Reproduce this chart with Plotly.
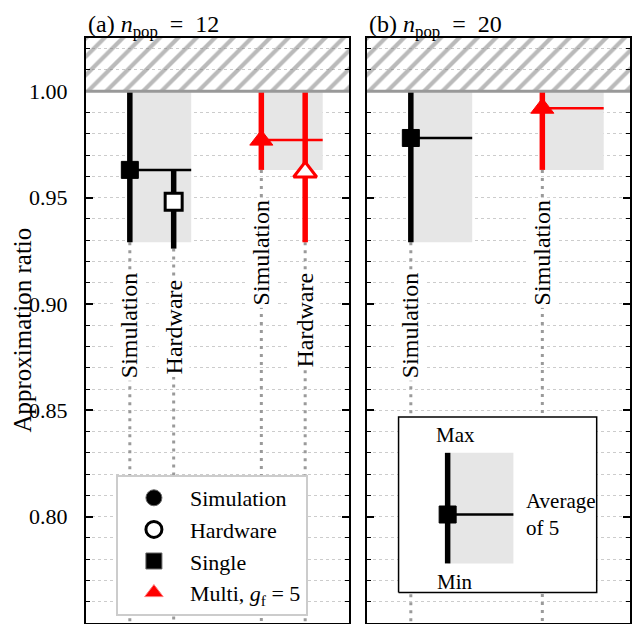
import plotly.graph_objects as go
from plotly.subplots import make_subplots

# panel (a): n_pop = 12
a_x = [1, 2, 4, 5]
a_max = [1.000, 0.963, 1.000, 1.000]
a_min = [0.929, 0.926, 0.963, 0.929]
a_avg = [0.963, 0.948, 0.977, 0.962]
a_src = ["Simulation", "Hardware", "Simulation", "Hardware"]
a_mode = ["Single", "Single", "Multi", "Multi"]

# panel (b): n_pop = 20
b_x = [1, 4]
b_max = [1.000, 1.000]
b_min = [0.929, 0.963]
b_avg = [0.978, 0.992]
b_src = ["Simulation", "Simulation"]
b_mode = ["Single", "Multi"]

# explanation key (inset of panel b)
key_x = 1.84
key_max = 0.830
key_min = 0.778
key_avg = 0.801

tick_vals = [0.75, 0.80, 0.85, 0.90, 0.95, 1.00]
tick_text = ["0.75", "0.80", "0.85", "0.90", "0.95", "1.00"]

Y_LO, Y_HI = 0.75, 1.025
X_LO, X_HI = 0, 6
AVG_LEN = 1.4
INSET = dict(x0=0.72, x1=5.24, y0=0.7643, y1=0.8468)
FONT = "Liberation Serif"
GRAY_FILL = "#e6e6e6"
DOT_GRAY = "#9a9a9a"

panels = [
    (1, a_x, a_max, a_min, a_avg, a_src, a_mode),
    (2, b_x, b_max, b_min, b_avg, b_src, b_mode),
]

fig = make_subplots(rows=1, cols=2, shared_yaxes=True)


def col_of(mode):
    return "black" if mode == "Single" else "red"


# hatched "impossible" region above 1
for col, *_ in panels:
    fig.add_trace(go.Bar(
        x=[(X_LO + X_HI) / 2], y=[Y_HI - 1.0], base=[1.0], width=[X_HI - X_LO],
        marker=dict(color="rgba(0,0,0,0)", line_width=0,
                    pattern=dict(shape="/", fgcolor="#757575", bgcolor="rgba(0,0,0,0)",
                                 size=13, solidity=0.32)),
        showlegend=False, hoverinfo="skip"), row=1, col=col)

# gray min-max boxes for simulation runs
for col, xs, mx, mn, av, src, mode in panels:
    for i in range(len(xs)):
        if src[i] != "Simulation":
            continue
        x0, x1 = xs[i], xs[i] + AVG_LEN
        fig.add_trace(go.Scatter(
            x=[x0, x1, x1, x0, x0], y=[mn[i], mn[i], mx[i], mx[i], mn[i]],
            mode="lines", fill="toself", fillcolor=GRAY_FILL, line_width=0,
            showlegend=False, hoverinfo="skip"), row=1, col=col)

# dotted guide lines under each bar
for col, xs, mx, mn, av, src, mode in panels:
    for i in range(len(xs)):
        fig.add_trace(go.Scatter(
            x=[xs[i], xs[i]], y=[mn[i], Y_LO], mode="lines",
            line=dict(color=DOT_GRAY, width=3, dash="3px,5px"),
            showlegend=False, hoverinfo="skip"), row=1, col=col)

# inset box
fig.add_trace(go.Scatter(
    x=[INSET["x0"], INSET["x1"], INSET["x1"], INSET["x0"], INSET["x0"]],
    y=[INSET["y0"], INSET["y0"], INSET["y1"], INSET["y1"], INSET["y0"]],
    mode="lines", fill="toself", fillcolor="white", line=dict(color="black", width=1.5),
    showlegend=False, hoverinfo="skip"), row=1, col=2)

# average lines
for col, xs, mx, mn, av, src, mode in panels:
    for i in range(len(xs)):
        if src[i] != "Simulation":
            continue
        fig.add_trace(go.Scatter(
            x=[xs[i], xs[i] + AVG_LEN], y=[av[i], av[i]], mode="lines",
            line=dict(color=col_of(mode[i]), width=2.5),
            showlegend=False, hoverinfo="skip"), row=1, col=col)

# min-max bars
for col, xs, mx, mn, av, src, mode in panels:
    for i in range(len(xs)):
        fig.add_trace(go.Scatter(
            x=[xs[i], xs[i]], y=[mn[i], mx[i]], mode="lines",
            line=dict(color=col_of(mode[i]), width=5.5),
            showlegend=False, hoverinfo="skip"), row=1, col=col)

# markers
for col, xs, mx, mn, av, src, mode in panels:
    for i in range(len(xs)):
        c = col_of(mode[i])
        sym = "square" if mode[i] == "Single" else "triangle-up"
        filled = src[i] == "Simulation"
        fig.add_trace(go.Scatter(
            x=[xs[i]], y=[av[i]], mode="markers",
            marker=dict(symbol=sym, size=17 if sym == "square" else 20,
                        color=c if filled else "white",
                        line=dict(color=c, width=1 if filled else 3)),
            showlegend=False, hoverinfo="skip"), row=1, col=col)

# key contents
fig.add_trace(go.Scatter(
    x=[key_x, key_x + AVG_LEN + 0.1, key_x + AVG_LEN + 0.1, key_x, key_x],
    y=[key_min, key_min, key_max, key_max, key_min],
    mode="lines", fill="toself", fillcolor=GRAY_FILL, line_width=0,
    showlegend=False, hoverinfo="skip"), row=1, col=2)
fig.add_trace(go.Scatter(
    x=[key_x, key_x + AVG_LEN + 0.1], y=[key_avg, key_avg], mode="lines",
    line=dict(color="black", width=2.5), showlegend=False, hoverinfo="skip"), row=1, col=2)
fig.add_trace(go.Scatter(
    x=[key_x, key_x], y=[key_min, key_max], mode="lines",
    line=dict(color="black", width=5.5), showlegend=False, hoverinfo="skip"), row=1, col=2)
fig.add_trace(go.Scatter(
    x=[key_x], y=[key_avg], mode="markers",
    marker=dict(symbol="square", size=17, color="black", line=dict(color="black", width=1)),
    showlegend=False, hoverinfo="skip"), row=1, col=2)

# legend entries
legend_items = [
    ("Simulation", "circle", "black", "#666666", 1),
    ("Hardware", "circle", "white", "black", 3),
    ("Single", "square", "black", "#666666", 1),
    ("Multi, <i>g</i><sub>f</sub> = 5", "triangle-up", "red", "#ff7777", 1),
]
for name, sym, fc, lc, lw in legend_items:
    fig.add_trace(go.Scatter(
        x=[None], y=[None], mode="markers", name=name,
        marker=dict(symbol=sym, size=16, color=fc, line=dict(color=lc, width=lw))),
        row=1, col=1)

# rotated labels under the bars
annotations = []
for col, xs, mx, mn, av, src, mode in panels:
    xr = "x" if col == 1 else "x2"
    for i in range(len(xs)):
        annotations.append(dict(
            x=xs[i], y=mn[i] - 0.013, xref=xr, yref="y", text=src[i],
            textangle=-90, xanchor="center", yanchor="top", showarrow=False,
            bgcolor="white", borderpad=2, font=dict(size=24, color="black")))

# panel titles (top of the text box sits at the top of the figure)
titles = ["(a)&nbsp;<i>n</i><sub>pop</sub>&nbsp;&nbsp;=&nbsp;&nbsp;12",
          "(b)&nbsp;<i>n</i><sub>pop</sub>&nbsp;&nbsp;=&nbsp;&nbsp;20"]
for k, t in enumerate(titles):
    xr = "x domain" if k == 0 else "x2 domain"
    annotations.append(dict(
        x=0, y=1 + 29 / 585, xref=xr, yref="paper", text=t, xanchor="left", yanchor="top",
        showarrow=False, font=dict(size=24, color="black")))

# key texts
annotations += [
    dict(x=key_x + 0.17, y=key_max + 0.002, xref="x2", yref="y", text="Max",
         yanchor="bottom", showarrow=False, font=dict(size=21, color="black")),
    dict(x=key_x + 0.17, y=key_min - 0.002, xref="x2", yref="y", text="Min",
         yanchor="top", showarrow=False, font=dict(size=21, color="black")),
    dict(x=key_x + AVG_LEN + 0.35, y=key_avg, xref="x2", yref="y",
         text="Average<br>of 5", xanchor="left", align="left", showarrow=False,
         font=dict(size=21, color="black")),
    dict(x=-0.1176, y=0.50, xref="paper", yref="paper", text="Approximation ratio",
         textangle=-90, xanchor="center", yanchor="middle", showarrow=False,
         font=dict(size=25, color="black")),
]

fig.add_hline(y=1.0, line=dict(color="#999999", width=3), row=1, col="all")

yaxis_style = dict(
    range=[Y_LO, Y_HI], tickmode="array", tickvals=tick_vals, ticktext=tick_text,
    ticks="inside", ticklen=7, tickwidth=1.5, tickcolor="black",
    showline=True, linewidth=2, linecolor="black", mirror="allticks",
    showgrid=True, gridcolor="#cccccc", griddash="dot", gridwidth=1, zeroline=False,
    minor=dict(tickmode="linear", tick0=0.75, dtick=0.01, ticks="inside", ticklen=4,
               tickwidth=1.2, tickcolor="black", showgrid=True, gridcolor="#cccccc",
               griddash="dot", gridwidth=1),
)
xaxis_style = dict(
    range=[X_LO, X_HI], showticklabels=False, ticks="", showgrid=False, zeroline=False,
    showline=True, linewidth=2, linecolor="black", mirror=True,
)

fig.update_yaxes(**yaxis_style)
fig.update_yaxes(tickfont=dict(size=22, color="black"), ticklabelstandoff=12, row=1, col=1)
fig.update_yaxes(showticklabels=False, row=1, col=2)
fig.update_xaxes(**xaxis_style)

# the page body has an 8px margin; keep the figure inside the 640x632 window
fig.update_layout(
    width=624, height=616,
    margin=dict(l=78, r=2, t=30, b=1, autoexpand=False),
    paper_bgcolor="white", plot_bgcolor="white",
    font=dict(family=FONT, color="black"),
    xaxis=dict(domain=[0, 263 / 544]),
    xaxis2=dict(domain=[281 / 544, 1]),
    barmode="overlay",
    annotations=annotations,
    legend=dict(x=0.055, y=0.253, xanchor="left", yanchor="top", bgcolor="white",
                bordercolor="#cccccc", borderwidth=2, font=dict(size=22, color="black"),
                itemwidth=62, tracegroupgap=0),
)

fig.write_html("out.html")
